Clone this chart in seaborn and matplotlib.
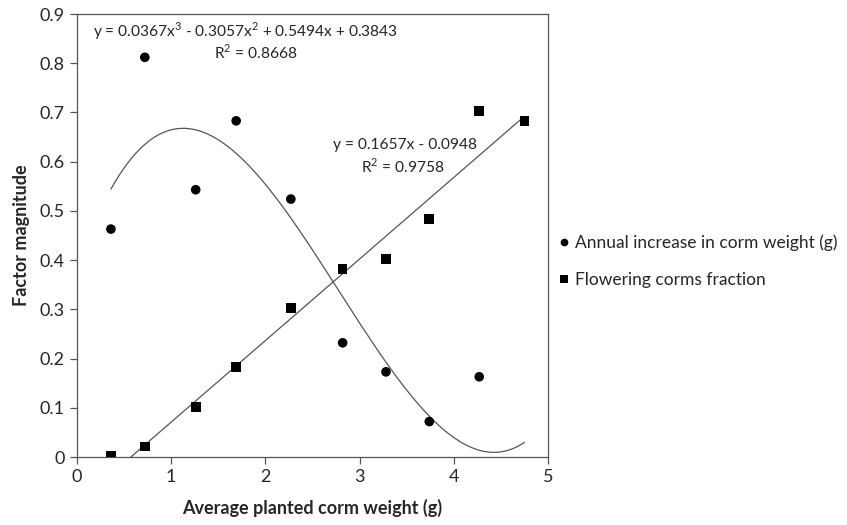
import numpy as np
import pandas as pd
import matplotlib
matplotlib.use("Agg")
import matplotlib.pyplot as plt
import seaborn as sns

# Data
weight_annual = [0.36, 0.72, 1.26, 1.69, 2.27, 2.82, 3.28, 3.74, 4.27]
annual_increase = [0.463, 0.812, 0.543, 0.683, 0.524, 0.232, 0.173, 0.072, 0.163]
weight_flower = [0.36, 0.72, 1.26, 1.69, 2.27, 2.82, 3.28, 3.74, 4.27, 4.75]
flowering_fraction = [0.002, 0.021, 0.102, 0.183, 0.303, 0.382, 0.402, 0.484, 0.703, 0.683]

series_names = ["Annual increase in corm weight (g)", "Flowering corms fraction"]
cubic_coef = [0.0367, -0.3057, 0.5494, 0.3843]   # x^3, x^2, x, c
linear_coef = [0.1657, -0.0948]
cubic_label = "y = 0.0367x$^3$ - 0.3057x$^2$ + 0.5494x + 0.3843"
cubic_r2 = "R$^2$ = 0.8668"
linear_label = "y = 0.1657x - 0.0948"
linear_r2 = "R$^2$ = 0.9758"
x_ticks = [0, 1, 2, 3, 4, 5]
y_ticks = [0, 0.1, 0.2, 0.3, 0.4, 0.5, 0.6, 0.7, 0.8, 0.9]

sns.set_style("white")
plt.rcParams['font.family'] = ['Lato', 'DejaVu Sans']
plt.rcParams['mathtext.fontset'] = 'custom'
plt.rcParams['mathtext.rm'] = 'Lato'

df = pd.DataFrame({
    "x": weight_annual + weight_flower,
    "y": annual_increase + flowering_fraction,
    "series": [series_names[0]] * len(weight_annual) + [series_names[1]] * len(weight_flower),
})

fig = plt.figure(figsize=(8.47, 5.25), dpi=100)
ax = fig.add_axes([77 / 847, 1 - 457 / 525, (548 - 77) / 847, (457 - 14) / 525])

# trend lines
xc = np.linspace(min(weight_annual), max(weight_flower), 300)
yc = np.polyval(cubic_coef, xc)
sns.lineplot(x=xc, y=yc, ax=ax, color="#555555", linewidth=0.9, legend=False)
x0 = -linear_coef[1] / linear_coef[0]
xl = np.linspace(x0, max(weight_flower), 100)
yl = np.polyval(linear_coef, xl)
sns.lineplot(x=xl, y=yl, ax=ax, color="#555555", linewidth=0.9, legend=False)

sns.scatterplot(data=df, x="x", y="y", style="series", markers={series_names[0]: "o", series_names[1]: "s"},
                color="black", s=48, edgecolor="black", linewidth=0, ax=ax, zorder=3)

ax.set_xlim(0, 5)
ax.set_ylim(0, 0.9)
ax.set_xticks(x_ticks)
ax.set_yticks(y_ticks)
ax.set_xticklabels([str(t) for t in x_ticks])
ax.set_yticklabels(["0" if t == 0 else f"{t:.1f}" for t in y_ticks])
ax.tick_params(axis="both", labelsize=13, direction="out", length=5, width=0.9, color="#555555",
               bottom=True, left=True, pad=4)
for sp in ax.spines.values():
    sp.set_visible(True)
    sp.set_color("#555555")
    sp.set_linewidth(0.9)

ax.set_xlabel("Average planted corm weight (g)", fontsize=13, fontweight="bold", labelpad=10)
ax.set_ylabel("Factor magnitude", fontsize=13, fontweight="bold", labelpad=7)

ax.text(1.79, 0.866, cubic_label, ha="center", va="center", fontsize=11.2)
ax.text(1.90, 0.821, cubic_r2, ha="center", va="center", fontsize=11.2)
ax.text(3.48, 0.634, linear_label, ha="center", va="center", fontsize=11.2)
ax.text(3.46, 0.591, linear_r2, ha="center", va="center", fontsize=11.2)

leg = ax.legend(loc="center left", bbox_to_anchor=(0.972, 0.442), frameon=False, fontsize=12.5,
                handletextpad=-0.2, labelspacing=1.25, markerscale=0.8, title=None,
                handlelength=1.6)

fig.savefig("out.png", dpi=100)
